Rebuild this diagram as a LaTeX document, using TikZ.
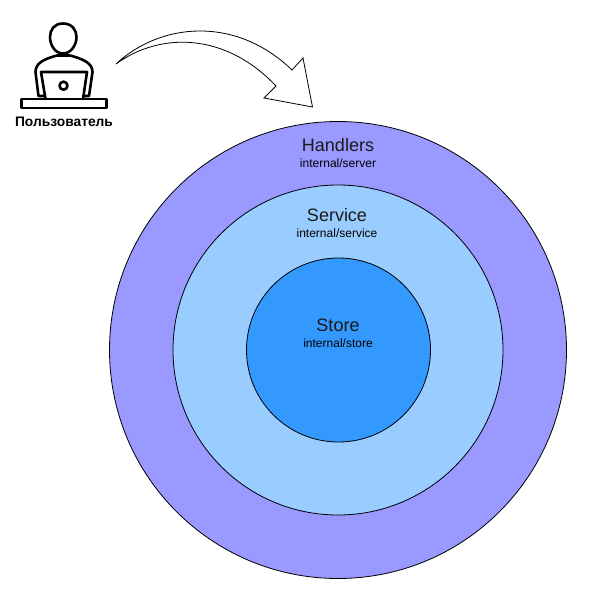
\documentclass[tikz,border=0pt]{standalone}
\usepackage{fontspec}
\setmainfont{Liberation Sans}
\definecolor{outerc}{HTML}{9999FF}
\definecolor{midc}{HTML}{99CCFF}
\definecolor{innerc}{HTML}{3399FF}
\definecolor{inkc}{HTML}{1A1A1A}
\tikzset{
  ring/.style={circle,draw=black,line width=0.8pt,inner sep=0pt,outer sep=0pt},
  title/.style={font=\fontsize{18}{20}\selectfont,text=inkc,inner sep=0pt,anchor=center},
  sub/.style={font=\fontsize{12}{14}\selectfont,text=black,inner sep=0pt,anchor=center},
  icon/.style={draw=black,line width=2.6pt,line join=round,line cap=round},
}
\begin{document}
\begin{tikzpicture}[x=1pt,y=-1pt]
\useasboundingbox (0,0) rectangle (590,591);
\fill[white] (0,0) rectangle (590,591);
\node[ring,fill=outerc,minimum size=457pt] (outer) at (338,350) {};
\node[ring,fill=midc,minimum size=330pt] (mid) at (338,350) {};
\node[ring,fill=innerc,minimum size=184pt] (inner) at (338.5,350) {};
\node[title] (th) at (338,145) {Handlers};
\node[sub] (sh) at (338,163) {internal/server};
\node[title] (ts) at (337,215) {Service};
\node[sub] (ss) at (337,233) {internal/service};
\node[title] (tt) at (338,325) {Store};
\node[sub] (st) at (338,343) {internal/store};
% arrow
\draw[line width=0.8pt,line join=miter,fill=white] (116,64) .. controls (160,23) and (235,15) .. (292,70)
  -- (303,58) -- (312.5,107) -- (264,98) -- (276,86)
  .. controls (225,32) and (160,32) .. cycle;
% person
\draw[icon] (63,23.5) .. controls (72,23.5) and (76.5,30) .. (76.5,37)
  .. controls (76.5,45) and (71,53.5) .. (63,53.5)
  .. controls (55,53.5) and (50,45) .. (50,37)
  .. controls (50,30) and (54,23.5) .. (63,23.5) -- cycle;
\draw[icon] (44,96) -- (38.5,96) -- (35.5,72)
  .. controls (35.5,63) and (44,59) .. (57,55.5) -- (70,55.5)
  .. controls (83,59) and (92.5,63) .. (92.5,72) -- (89,96) -- (83,96);
\draw[icon,fill=white] (45.5,99) -- (41,72) -- (87,72) -- (83,99);
\draw[icon] (63.5,85.7) circle (4pt);
\draw[icon,fill=white] (21.5,99) rectangle (106.5,108);
\node[font=\bfseries\fontsize{13.8}{16}\selectfont,inner sep=0pt] (user) at (64,122) {Пользователь};
\end{tikzpicture}
\end{document}
